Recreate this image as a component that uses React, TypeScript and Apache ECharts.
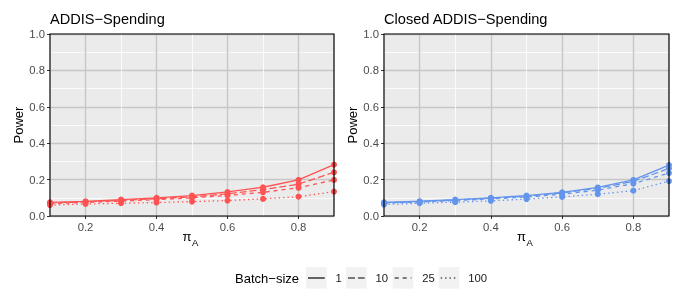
import React, { useEffect, useRef } from "react";
import * as echarts from "echarts";

// ---- data ----
const piA = [0.1, 0.2, 0.3, 0.4, 0.5, 0.6, 0.7, 0.8, 0.9];
const batchSizes = ["1", "10", "25", "100"];
const panelTitles = ["ADDIS\u2212Spending", "Closed ADDIS\u2212Spending"];

const addisB1 = [0.075, 0.08, 0.09, 0.1, 0.112, 0.132, 0.158, 0.198, 0.282];
const addisB10 = [0.072, 0.078, 0.086, 0.095, 0.105, 0.122, 0.145, 0.175, 0.24];
const addisB25 = [0.068, 0.075, 0.082, 0.09, 0.1, 0.113, 0.13, 0.155, 0.198];
const addisB100 = [0.06, 0.066, 0.07, 0.074, 0.079, 0.085, 0.094, 0.106, 0.134];

const closedB1 = [0.075, 0.081, 0.09, 0.1, 0.112, 0.13, 0.157, 0.198, 0.28];
const closedB10 = [0.073, 0.079, 0.088, 0.098, 0.109, 0.127, 0.152, 0.19, 0.262];
const closedB25 = [0.07, 0.077, 0.085, 0.094, 0.104, 0.12, 0.142, 0.178, 0.236];
const closedB100 = [0.063, 0.07, 0.076, 0.083, 0.093, 0.105, 0.12, 0.139, 0.192];

const xTickValues = [0.2, 0.4, 0.6, 0.8];

// ---- styling ----
const panelColors = ["#FF5252", "#6495ED"];
const dashTypes: any[] = ["solid", [7, 3], [4, 4], [1.4, 3]];
const FONT = "'Liberation Sans', Arial, Helvetica, sans-serif";
const grids = [
  { left: 50, top: 34, width: 284, height: 182 },
  { left: 384, top: 34, width: 285, height: 182 },
];
const MAJOR = "#c6c6c6";
const MINOR = "#ffffff";
const NONE = "rgba(0,0,0,0)";

export default function App() {
  const ref = useRef<HTMLDivElement>(null);

  useEffect(() => {
    document.body.style.margin = "0";
    const chart = echarts.init(ref.current!, null, { renderer: "svg" });
    const panelData = [
      [addisB1, addisB10, addisB25, addisB100],
      [closedB1, closedB10, closedB25, closedB100],
    ];

    const xAxis: any[] = [];
    const yAxis: any[] = [];
    const series: any[] = [];
    const graphic: any[] = [];

    grids.forEach((g, p) => {
      // main x axis: ticks, labels and gray lines at 0.2, 0.4, 0.6, 0.8
      xAxis.push({
        type: "value",
        gridIndex: p,
        min: 0.1,
        max: 0.9,
        interval: 0.1,
        position: "bottom",
        axisLine: { show: false },
        axisTick: {
          show: true,
          length: 3,
          customValues: xTickValues,
          lineStyle: { color: "#333333", width: 1 },
        },
        axisLabel: {
          customValues: xTickValues,
          formatter: (v: number) => v.toFixed(1),
          color: "#4d4d4d",
          fontSize: 11.3,
          fontFamily: FONT,
          margin: 5,
        },
        splitLine: { show: true, lineStyle: { color: MAJOR, width: 1.4 } },
      });
      // minor x lines at 0.1, 0.3, ... 0.9
      xAxis.push({
        type: "value",
        gridIndex: p,
        min: 0.1,
        max: 0.9,
        interval: 0.2,
        position: "top",
        axisLine: { show: false },
        axisTick: { show: false },
        axisLabel: { show: false },
        splitLine: { show: true, lineStyle: { color: MINOR, width: 0.8 } },
      });
      yAxis.push({
        type: "value",
        gridIndex: p,
        min: 0,
        max: 1,
        interval: 0.2,
        position: "left",
        axisLine: { show: false },
        axisTick: { show: true, length: 3, lineStyle: { color: "#333333", width: 1 } },
        axisLabel: {
          formatter: (v: number) => v.toFixed(1),
          color: "#4d4d4d",
          fontSize: 11.3,
          fontFamily: FONT,
          margin: 5,
        },
        splitLine: { show: true, lineStyle: { color: MAJOR, width: 1.4 } },
      });
      yAxis.push({
        type: "value",
        gridIndex: p,
        min: 0,
        max: 1,
        interval: 0.1,
        position: "right",
        axisLine: { show: false },
        axisTick: { show: false },
        axisLabel: { show: false },
        splitLine: {
          show: true,
          lineStyle: { color: [NONE, MINOR], width: 0.8 },
        },
      });

      panelData[p].forEach((vals, b) => {
        series.push({
          type: "line",
          name: batchSizes[b],
          xAxisIndex: 2 * p,
          yAxisIndex: 2 * p,
          data: piA.map((x, i) => [x, vals[i]]),
          symbol: "circle",
          symbolSize: 6,
          clip: false,
          lineStyle: { color: panelColors[p], width: 1.3, type: dashTypes[b] },
          itemStyle: { color: panelColors[p] },
          z: 3,
        });
      });

      // panel border
      graphic.push({
        type: "rect",
        shape: { x: g.left, y: g.top, width: g.width, height: g.height },
        style: { fill: NONE, stroke: "#000000", lineWidth: 1.2 },
        z: 100,
        silent: true,
      });
      // title
      graphic.push({
        type: "text",
        x: g.left,
        y: 18.7,
        style: {
          text: panelTitles[p],
          fill: "#000000",
          font: `14.6px ${FONT}`,
          align: "left",
          verticalAlign: "middle",
        },
        z: 100,
      });
      // y axis title
      graphic.push({
        type: "text",
        x: g.left - 32,
        y: g.top + g.height / 2,
        rotation: Math.PI / 2,
        style: {
          text: "Power",
          fill: "#000000",
          font: `13px ${FONT}`,
          align: "center",
          verticalAlign: "middle",
        },
        z: 100,
      });
      // x axis title  pi_A
      const cx = g.left + g.width / 2;
      graphic.push({
        type: "text",
        x: cx - 0.5,
        y: 236.5,
        style: {
          text: "\u03c0",
          fill: "#000000",
          font: `13px ${FONT}`,
          align: "right",
          verticalAlign: "middle",
        },
        z: 100,
      });
      graphic.push({
        type: "text",
        x: cx,
        y: 242.3,
        style: {
          text: "A",
          fill: "#000000",
          font: `9.5px ${FONT}`,
          align: "left",
          verticalAlign: "middle",
        },
        z: 100,
      });
    });

    // legend
    const legendY = 278;
    graphic.push({
      type: "text",
      x: 299,
      y: legendY,
      style: {
        text: "Batch\u2212size",
        fill: "#000000",
        font: `13px ${FONT}`,
        align: "right",
        verticalAlign: "middle",
      },
    });
    const keyX = [306, 346, 392.7, 438.7];
    batchSizes.forEach((lab, b) => {
      const kx = keyX[b];
      graphic.push({
        type: "rect",
        shape: { x: kx, y: legendY - 11, width: 20.7, height: 21.6 },
        style: { fill: "#f2f2f2" },
      });
      graphic.push({
        type: "line",
        shape: { x1: kx + 2, y1: legendY, x2: kx + 18.7, y2: legendY },
        style: {
          stroke: "#000000",
          lineWidth: 1.2,
          lineDash: dashTypes[b] === "solid" ? null : dashTypes[b],
        },
      });
      graphic.push({
        type: "text",
        x: kx + 29.5,
        y: legendY,
        style: {
          text: lab,
          fill: "#1a1a1a",
          font: `11.3px ${FONT}`,
          align: "left",
          verticalAlign: "middle",
        },
      });
    });

    chart.setOption({
      animation: false,
      textStyle: { fontFamily: FONT },
      grid: grids.map((g) => ({
        ...g,
        show: true,
        backgroundColor: "#ebebeb",
        borderWidth: 0,
        containLabel: false,
      })),
      xAxis,
      yAxis,
      series,
      graphic,
    });

    return () => chart.dispose();
  }, []);

  return (
    <div
      ref={ref}
      style={{ position: "fixed", left: 0, top: 0, width: 681, height: 308 }}
    />
  );
}
